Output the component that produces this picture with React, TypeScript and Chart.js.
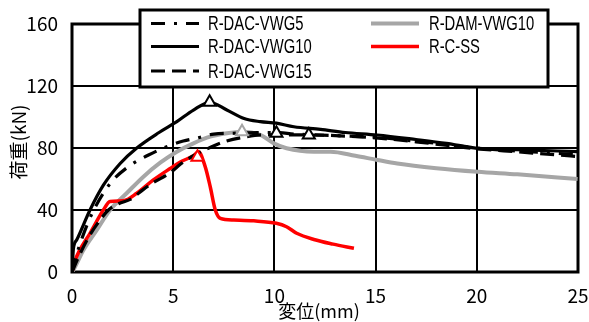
import React, { useEffect, useRef } from "react";
import { Chart, registerables } from "chart.js";

Chart.register(...registerables);

// ---- data ----
const vwg5X = [0, 0.2, 0.5, 1.0, 1.88, 2.79, 3.78, 4.77, 5.5, 6.2, 7.0, 8.0, 9.2, 10.1, 11.0, 12.0, 13.0, 14.0, 15.0, 16.5, 18.0, 20.0, 22.0, 24.0, 25.0];
const vwg5Y = [0, 10, 22, 38, 57, 68, 75.5, 81.3, 84.5, 86.5, 89, 89.5, 90, 90, 89, 88.5, 88, 87.5, 87, 85, 83, 80, 78, 76.5, 75.5];

const vwg10X = [0, 0.07, 0.23, 0.89, 1.55, 2.38, 3.2, 4.3, 5.18, 6.0, 6.8, 7.65, 8.5, 9.3, 10.1, 10.96, 12.28, 13.5, 15.08, 17.0, 18.5, 20.03, 22.0, 24.98];
const vwg10Y = [0, 15, 20.6, 40, 56, 70, 80, 90, 97, 104.5, 109.5, 104.5, 99, 97, 96, 93.7, 92, 90, 88.4, 85.5, 83, 79.8, 79, 77.6];

const vwg15X = [0, 0.3, 0.8, 1.3, 1.8, 2.3, 2.9, 3.5, 4.0, 4.85, 5.4, 6.0, 6.6, 7.5, 8.5, 9.5, 10.5, 11.7, 13.0, 15.0, 17.0, 20.0, 22.0, 24.0, 25.0];
const vwg15Y = [0, 9, 22, 32, 40, 44, 47, 53, 57.5, 64, 70, 75, 79, 84, 87, 88.5, 88.5, 88.4, 88, 86.5, 84, 79.5, 77.5, 75.5, 74.5];

const damX = [0, 0.07, 0.56, 1.22, 1.88, 2.7, 3.53, 4.36, 5.18, 6.0, 6.83, 7.65, 8.4, 9.3, 9.97, 10.6, 11.95, 12.77, 14.0, 15.08, 16.07, 18.0, 20.03, 22.0, 24.98];
const damY = [0, 1.3, 14, 27, 40, 50.8, 61.5, 70.5, 77.6, 83, 87.3, 89.5, 90.5, 88.4, 83, 79.8, 77.6, 77.6, 75, 72.3, 70, 67, 64.7, 63, 60];

const cssX = [0, 0.23, 0.89, 1.55, 1.88, 2.54, 3.2, 4.02, 4.85, 5.35, 6.0, 6.25, 6.58, 6.83, 7.08, 7.33, 7.99, 8.98, 10.1, 10.6, 11.1, 11.95, 12.9, 13.93];
const cssY = [0, 10, 25, 40, 45.5, 46, 50.8, 59.4, 66.8, 71, 75, 77.6, 68, 55, 40, 34.6, 33.5, 33, 31.4, 29.2, 25, 21, 18, 15.3];

const peakX = [6.8, 8.4, 10.1, 11.7, 6.2];
const peakY = [109.5, 90.5, 89.5, 88.4, 74];
const peakColors = ["#000000", "#a6a6a6", "#000000", "#000000", "#ff0000"];

const seriesNames = ["R-DAC-VWG5", "R-DAC-VWG10", "R-DAC-VWG15", "R-DAM-VWG10", "R-C-SS"];
const xTitle = "変位(mm)";
const yTitle = "荷重(kN)";

const DASH_DOT = [14, 9, 3, 9];
const DASH = [14, 7];

const pts = (xs: number[], ys: number[]) => xs.map((x, i) => ({ x, y: ys[i] }));

const TICK_FONT = '"Noto Sans CJK JP", sans-serif';

const legendPlugin = {
  id: "customLegend",
  afterDraw(chart: any) {
    const ctx = chart.ctx;
    ctx.save();
    ctx.fillStyle = "#ffffff";
    ctx.fillRect(140, 10, 408, 77);
    ctx.strokeStyle = "#000";
    ctx.lineWidth = 3;
    ctx.strokeRect(140, 10, 408, 77);

    const items = [
      { name: seriesNames[0], color: "#000", dash: DASH_DOT, w: 3, sx: 151, tx: 208, y: 23.5 },
      { name: seriesNames[1], color: "#000", dash: [], w: 3, sx: 151, tx: 208, y: 46.5 },
      { name: seriesNames[2], color: "#000", dash: DASH, w: 3, sx: 151, tx: 208, y: 71 },
      { name: seriesNames[3], color: "#a6a6a6", dash: [], w: 4, sx: 371, tx: 429, y: 23.5 },
      { name: seriesNames[4], color: "#ff0000", dash: [], w: 3.5, sx: 371, tx: 429, y: 46.5 },
    ];
    for (const it of items) {
      ctx.beginPath();
      ctx.setLineDash(it.dash);
      ctx.strokeStyle = it.color;
      ctx.lineWidth = it.w;
      ctx.moveTo(it.sx, it.y);
      ctx.lineTo(it.sx + 48, it.y);
      ctx.stroke();
      ctx.setLineDash([]);
      ctx.save();
      ctx.translate(it.tx, it.y + 1);
      ctx.scale(0.74, 1);
      ctx.fillStyle = "#000";
      ctx.font = '20px "Liberation Sans", sans-serif';
      ctx.textBaseline = "middle";
      ctx.textAlign = "left";
      ctx.fillText(it.name, 0, 0);
      ctx.restore();
    }

    ctx.fillStyle = "#000";
    ctx.font = '18px "Noto Sans CJK JP", sans-serif';
    ctx.textAlign = "center";
    ctx.textBaseline = "middle";
    ctx.fillText(xTitle, 319, 311);
    ctx.save();
    ctx.translate(19, 142);
    ctx.rotate(-Math.PI / 2);
    ctx.font = '19px "Noto Sans CJK JP", sans-serif';
    ctx.fillText(yTitle, 0, 0);
    ctx.restore();
    ctx.restore();
  },
  beforeDatasetsDraw(chart: any) {
    const { ctx, chartArea } = chart;
    ctx.save();
    ctx.strokeStyle = "#000";
    ctx.lineWidth = 3;
    ctx.strokeRect(chartArea.left, chartArea.top, chartArea.right - chartArea.left, chartArea.bottom - chartArea.top);
    ctx.restore();
  },
};

const zeroPad = (s: any) => {
  s.paddingLeft = 0;
  s.paddingRight = 0;
  s.paddingTop = 0;
  s.paddingBottom = 0;
};

export default function App() {
  const ref = useRef<HTMLCanvasElement | null>(null);
  useEffect(() => {
    document.body.style.margin = "0";
    if (!ref.current) return;
    const lineBase = { showLine: true, pointRadius: 0, fill: false, cubicInterpolationMode: "monotone" as const, borderCapStyle: "butt" as const };
    const chart = new Chart(ref.current, {
      type: "scatter",
      data: {
        datasets: [
          {
            label: "peaks",
            data: pts(peakX, peakY),
            showLine: false,
            pointStyle: "triangle",
            pointRadius: 7,
            pointBackgroundColor: "#ffffff",
            pointBorderColor: peakColors,
            pointBorderWidth: 2,
          },
          { ...lineBase, label: seriesNames[1], data: pts(vwg10X, vwg10Y), borderColor: "#000", borderWidth: 3.2 },
          { ...lineBase, label: seriesNames[0], data: pts(vwg5X, vwg5Y), borderColor: "#000", borderWidth: 3.2, borderDash: DASH_DOT },
          { ...lineBase, label: seriesNames[2], data: pts(vwg15X, vwg15Y), borderColor: "#000", borderWidth: 3.2, borderDash: DASH },
          { ...lineBase, label: seriesNames[4], data: pts(cssX, cssY), borderColor: "#ff0000", borderWidth: 3.5 },
          { ...lineBase, label: seriesNames[3], data: pts(damX, damY), borderColor: "#a6a6a6", borderWidth: 4 },
        ],
      },
      options: {
        animation: false,
        responsive: false,
        devicePixelRatio: 1,
        layout: { padding: { left: 0, right: 11, top: 24, bottom: 0 } },
        plugins: { legend: { display: false }, tooltip: { enabled: false } },
        scales: {
          x: {
            type: "linear",
            min: 0,
            max: 25,
            ticks: { stepSize: 5, color: "#000", padding: 12, maxRotation: 0, font: { size: 19, family: TICK_FONT } },
            grid: { color: "#000", lineWidth: 2, drawTicks: false },
            border: { display: false },
            afterFit: (s: any) => { s.height = 50; zeroPad(s); },
          },
          y: {
            min: 0,
            max: 160,
            ticks: { stepSize: 40, color: "#000", padding: 14, font: { size: 19, family: TICK_FONT } },
            grid: { color: "#000", lineWidth: 2, drawTicks: false },
            border: { display: false },
            afterFit: (s: any) => { s.width = 72; zeroPad(s); },
          },
        },
      },
      plugins: [legendPlugin],
    });
    return () => chart.destroy();
  }, []);
  return (
    <div style={{ position: "absolute", left: 0, top: 0, width: 589, height: 322, background: "#fff" }}>
      <canvas ref={ref} width={589} height={322} style={{ width: 589, height: 322, display: "block" }} />
    </div>
  );
}
